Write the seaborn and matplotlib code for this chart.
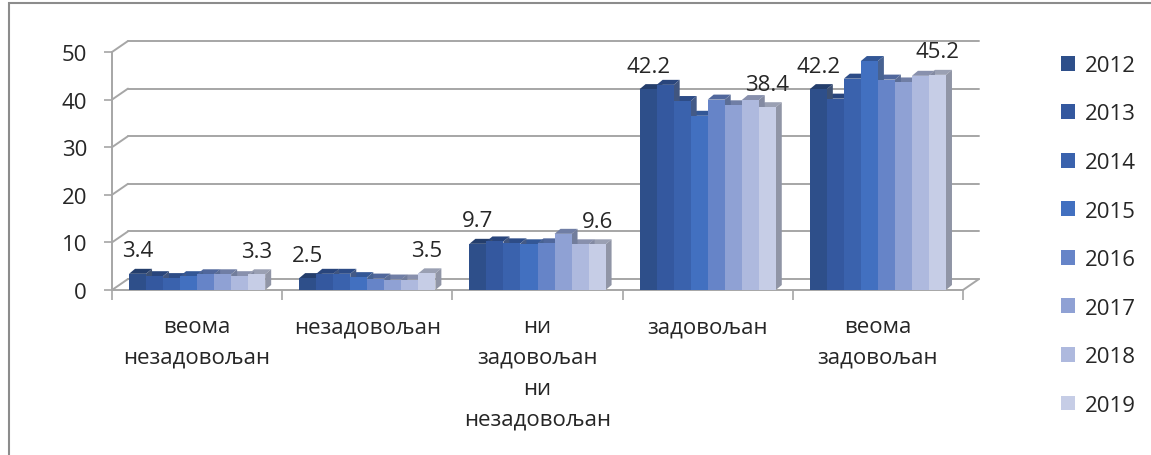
import numpy as np
import pandas as pd
import matplotlib
matplotlib.use('Agg')
import matplotlib.pyplot as plt
import seaborn as sns
from matplotlib.patches import Polygon, Rectangle

# data
categories = ['веома\nнезадовољан', 'незадовољан', 'ни\nзадовољан\nни\nнезадовољан',
              'задовољан', 'веома\nзадовољан']
years = ['2012', '2013', '2014', '2015', '2016', '2017', '2018', '2019']
v2012 = [3.4, 2.5, 9.7, 42.2, 42.2]
v2013 = [2.9, 3.4, 10.2, 43.1, 40.2]
v2014 = [2.5, 3.4, 9.8, 39.7, 44.4]
v2015 = [2.9, 2.7, 9.6, 36.6, 48.1]
v2016 = [3.3, 2.4, 9.8, 40.0, 44.2]
v2017 = [3.3, 2.2, 11.8, 38.8, 43.6]
v2018 = [2.9, 2.2, 9.6, 39.9, 45.0]
v2019 = [3.3, 3.5, 9.6, 38.4, 45.2]
yticks = [0, 10, 20, 30, 40, 50]
colors = ['#2E4F8A', '#34589F', '#3A62AD', '#4270C0',
          '#6684C8', '#8FA1D4', '#AEB9DE', '#C6CDE6']

series = [v2012, v2013, v2014, v2015, v2016, v2017, v2018, v2019]
df = pd.DataFrame({
    'category': categories * len(years),
    'year': np.repeat(years, len(categories)),
    'value': np.concatenate(series),
})

sns.set_style('white')
plt.rcParams['font.family'] = ['Open Sans', 'DejaVu Sans']

W, H, DPI = 1151, 456, 100
fig = plt.figure(figsize=(W / DPI, H / DPI), dpi=DPI)
ax_left, ax_right, ax_bottom, ax_top = 112, 963, 291, 53
ax = fig.add_axes([ax_left / W, 1 - ax_bottom / H,
                   (ax_right - ax_left) / W, (ax_bottom - ax_top) / H])

sns.barplot(data=df, x='category', y='value', hue='year', order=categories,
            hue_order=years, palette=colors, width=0.8, linewidth=0,
            saturation=1, ax=ax, zorder=3)
ax.set_xlim(-0.5, 4.5)
ax.set_ylim(0, 50)

# pixel -> data conversion
px_x = 5 / (ax_right - ax_left)
px_y = 50 / (ax_bottom - ax_top)

gray = '#A6A6A6'
# back wall gridlines (pseudo 3d)
gdx, gdy = 16 * px_x, 11 * px_y
for y in yticks:
    ax.plot([-0.5 + gdx, 4.5 + gdx], [y + gdy, y + gdy], color=gray, lw=1.4,
            clip_on=False, zorder=0.5)
    ax.plot([-0.5, -0.5 + gdx], [y, y + gdy], color=gray, lw=1.4,
            clip_on=False, zorder=0.5)
ax.plot([4.5, 4.5 + gdx], [0, gdy], color=gray, lw=1.4, clip_on=False, zorder=0.5)

# bar depth faces
bdx, bdy = 6 * px_x, 5 * px_y
for cont in ax.containers:
    for bar in cont:
        x, w, h = bar.get_x(), bar.get_width(), bar.get_height()
        c = np.array(bar.get_facecolor()[:3])
        top = Polygon([(x, h), (x + bdx, h + bdy), (x + w + bdx, h + bdy), (x + w, h)],
                      closed=True, facecolor=c * 0.78, lw=0, zorder=2, clip_on=False)
        side = Polygon([(x + w, 0), (x + w + bdx, bdy), (x + w + bdx, h + bdy), (x + w, h)],
                       closed=True, facecolor=c * 0.55 + 0.25 * np.array([0.55, 0.57, 0.62]),
                       lw=0, zorder=2.2, clip_on=False)
        ax.add_patch(top)
        ax.add_patch(side)

# value labels for first and last year
for cont in (ax.containers[0], ax.containers[-1]):
    ax.bar_label(cont, fmt='%.1f', padding=9, fontsize=16, zorder=5)

for s in ['top', 'right']:
    ax.spines[s].set_visible(False)
for s in ['left', 'bottom']:
    ax.spines[s].set_color(gray)
    ax.spines[s].set_linewidth(1.4)

ax.set_yticks(yticks)
ax.tick_params(axis='y', length=6, width=1.2, color=gray, pad=12, labelsize=16,
               direction='out', left=True)
ax.set_xticks(range(len(categories)))
ax.set_xticklabels(categories, fontsize=16, linespacing=1.6)
ax.tick_params(axis='x', length=0, pad=19)
ax.set_xticks(np.arange(-0.5, 5, 1), minor=True)
ax.tick_params(axis='x', which='minor', length=7, width=1.2, color=gray,
               direction='out', bottom=True)
ax.set_xlabel('')
ax.set_ylabel('')

handles, labels = ax.get_legend_handles_labels()
ax.get_legend().remove()
fig.legend(handles, labels, loc='upper left', bbox_to_anchor=(1052 / W, 1 - 47 / H),
           frameon=False, fontsize=16, handlelength=0.65, handleheight=0.65,
           handletextpad=0.45, labelspacing=1.24, borderaxespad=0)

# outer chart frame (only left and top edges are visible)
fig.add_artist(Rectangle((9 / W, -0.2), 1.5, 1.2 - 4 / H, transform=fig.transFigure,
                         fill=False, edgecolor='#8C8C8C', lw=1.5))

fig.savefig('out.png', dpi=DPI)
plt.close(fig)
